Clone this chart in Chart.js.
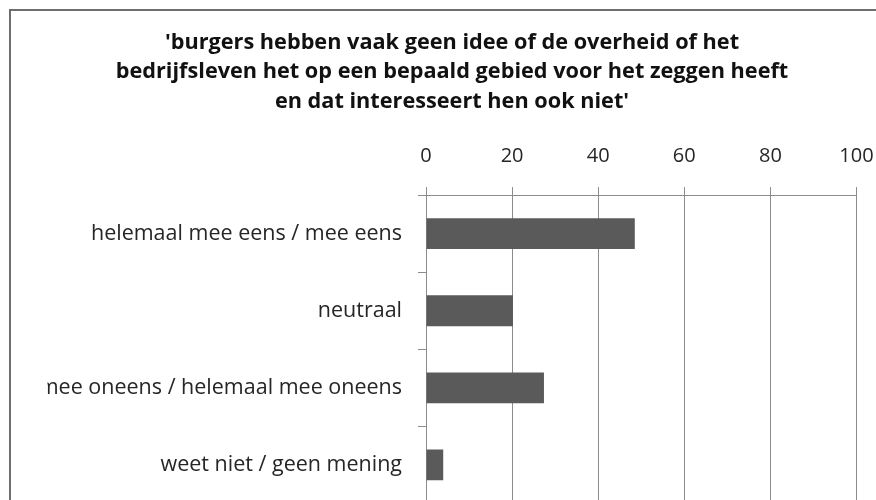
<!DOCTYPE html>
<html>
<head>
<meta charset="utf-8">
<script src="https://cdn.jsdelivr.net/npm/chart.js@4"></script>
<style>
  html, body { margin: 0; padding: 0; background: #fff; overflow: hidden; }
  #wrap { position: relative; width: 876px; height: 500px; overflow: hidden; }
  canvas { position: absolute; left: 0; top: 0; }
</style>
</head>
<body>
<div id="wrap">
  <canvas id="c" width="876" height="520"></canvas>
</div>
<script>
const titleLines = [
  "'burgers hebben vaak geen idee of de overheid of het",
  "bedrijfsleven het op een bepaald gebied voor het zeggen heeft",
  "en dat interesseert hen ook niet'"
];
const categories = [
  "helemaal mee eens / mee eens",
  "neutraal",
  "mee oneens / helemaal mee oneens",
  "weet niet / geen mening"
];
const values = [48.5, 20.2, 27.4, 4.0];
const xTicks = [0, 20, 40, 60, 80, 100];

const FONT = "'Open Sans', Lato, sans-serif";

const framePlugin = {
  id: 'frame',
  beforeDraw(chart) {
    const ctx = chart.ctx;
    ctx.save();
    ctx.strokeStyle = '#6e6e6e';
    ctx.lineWidth = 2;
    ctx.beginPath();
    ctx.moveTo(10, chart.height + 5);
    ctx.lineTo(10, 10);
    ctx.lineTo(chart.width + 5, 10);
    ctx.stroke();
    ctx.restore();
  }
};

new Chart(document.getElementById('c'), {
  type: 'bar',
  data: {
    labels: categories,
    datasets: [{
      data: values,
      backgroundColor: '#5a5a5a',
      borderWidth: 0,
      barPercentage: 0.4,
      categoryPercentage: 1.0
    }]
  },
  plugins: [framePlugin],
  options: {
    indexAxis: 'y',
    responsive: false,
    animation: false,
    devicePixelRatio: 1,
    layout: { padding: { left: 47.5, right: 19.5, top: 0, bottom: 16.5 } },
    plugins: {
      legend: { display: false },
      tooltip: { enabled: false },
      title: {
        display: true,
        text: titleLines,
        color: '#111',
        font: { family: FONT, size: 21.7, weight: 'bold', lineHeight: 1.36 },
        padding: { top: 28, bottom: 0 }
      }
    },
    scales: {
      x: {
        position: 'top',
        min: 0,
        max: 100,
        afterBuildTicks: (s) => { s.ticks = xTicks.map(v => ({ value: v })); },
        afterFit: (s) => { s.height = 78.5; s.paddingLeft = 0; s.paddingRight = 0; },
        ticks: {
          color: '#262626',
          font: { family: FONT, size: 20 },
          padding: 19,
          maxRotation: 0
        },
        grid: {
          color: '#8c8c8c',
          lineWidth: 1,
          tickLength: 8,
          drawOnChartArea: true,
          drawTicks: true
        },
        border: { display: true, color: '#8c8c8c', width: 1 }
      },
      y: {
        afterFit: (s) => { s.width = 378.5; s.paddingTop = 0; s.paddingBottom = 0; },
        ticks: {
          color: '#262626',
          font: { family: FONT, size: 21.5 },
          padding: 16
        },
        grid: {
          color: '#8c8c8c',
          lineWidth: 1,
          tickLength: 8,
          drawOnChartArea: false,
          drawTicks: true,
          offset: true
        },
        border: { display: true, color: '#8c8c8c', width: 1 }
      }
    }
  }
});
</script>
</body>
</html>
